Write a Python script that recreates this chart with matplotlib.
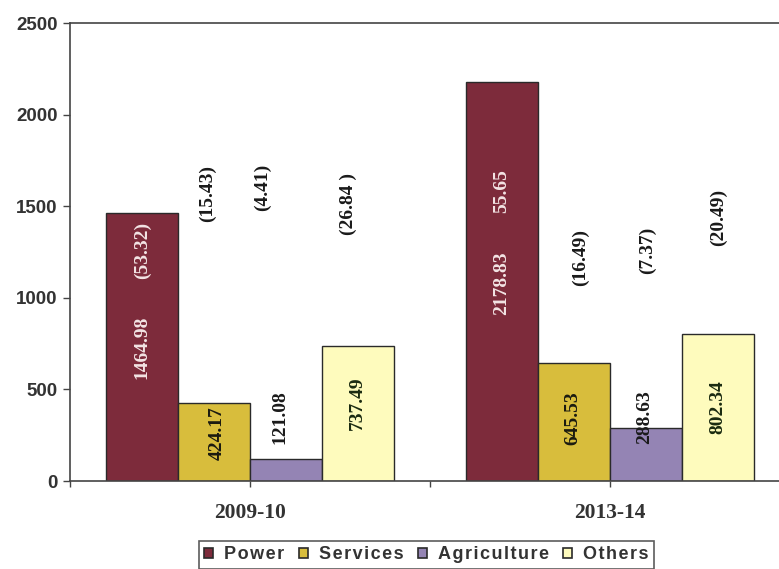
import matplotlib.pyplot as plt
import matplotlib.patches as mpatches
import numpy as np

# data
years = ["2009-10", "2013-14"]
sectors = ["Power", "Services", "Agriculture", "Others"]
values = {
    "Power": [1464.98, 2178.83],
    "Services": [424.17, 645.53],
    "Agriculture": [121.08, 288.63],
    "Others": [737.49, 802.34],
}
shares = {
    "Power": ["(53.32)", "55.65"],
    "Services": ["(15.43)", "(16.49)"],
    "Agriculture": ["(4.41)", "(7.37)"],
    "Others": ["(26.84 )", "(20.49)"],
}
colors = {
    "Power": "#7d2b3b",
    "Services": "#d8bd3c",
    "Agriculture": "#9484b4",
    "Others": "#fefbbd",
}
# where the rotated labels sit (y in data units, x shift in bar widths)
value_label_y = {
    "Power": [730, 1078],
    "Services": [261, 343],
    "Agriculture": [349, 349],
    "Others": [425, 403],
}
share_label_y = {
    "Power": [1258, 1585],
    "Services": [1569, 1220],
    "Agriculture": [1601, 1258],
    "Others": [1514, 1438],
}
share_label_dx = {
    "Power": [0.0, 0.0],
    "Services": [-0.017, 0.017],
    "Agriculture": [-0.064, 0.003],
    "Others": [-0.028, 0.0],
}
value_label_dx = {
    "Power": [0.0, 0.0],
    "Services": [0.008, -0.003],
    "Agriculture": [-0.017, -0.003],
    "Others": [-0.003, 0.0],
}
label_colors = {
    "Power": "#f3e4e4",
    "Services": "#1a1a10",
    "Agriculture": "#1a1a1a",
    "Others": "#1a2a10",
}

fig = plt.figure(figsize=(7.79, 5.69), dpi=100)
ax = fig.add_axes([70 / 779, 1 - 481 / 569, 720 / 779, (481 - 23) / 569])

x = np.arange(len(years))
width = 0.2
offsets = [-0.3, -0.1, 0.1, 0.3]

for s, off in zip(sectors, offsets):
    ax.bar(x + off, values[s], width, color=colors[s], edgecolor="#2a2a2a",
           linewidth=1.0, label=s, zorder=2)
    for i in range(len(years)):
        ax.text(x[i] + off + value_label_dx[s][i], value_label_y[s][i],
                f"{values[s][i]:.2f}", rotation=90, ha="center", va="center",
                fontsize=14, fontweight="bold", family="Liberation Serif",
                color=label_colors[s], zorder=3)
        pc = label_colors[s] if s == "Power" else "#1a1a1a"
        ax.text(x[i] + off + share_label_dx[s][i], share_label_y[s][i],
                shares[s][i], rotation=90, ha="center", va="center",
                fontsize=14, fontweight="bold", family="Liberation Serif",
                color=pc, zorder=3)

ax.set_xlim(-0.5, 1.5)
ax.set_ylim(0, 2500)
ax.set_yticks([0, 500, 1000, 1500, 2000, 2500])
ax.set_xticks(x)
ax.set_xticklabels(years, fontsize=15.5, fontweight="bold",
                   family="Liberation Serif", color="#333333")
ax.set_xticks([-0.5, 0.5, 1.5], minor=True)
ax.tick_params(axis="x", which="both", length=4, width=1, color="#444444", pad=12)
ax.tick_params(axis="y", length=5, width=1, color="#444444", pad=4)
for lab in ax.get_yticklabels():
    lab.set_fontsize(13.5)
    lab.set_fontweight("bold")
    lab.set_family("Liberation Sans")
    lab.set_color("#333333")

for side in ["left", "bottom", "top", "right"]:
    ax.spines[side].set_color("#444444")
    ax.spines[side].set_linewidth(1.2)

# legend with spaced lettering
spaced = ["\u200a".join(s) for s in sectors]
handles = [mpatches.Patch(facecolor=colors[s], edgecolor="#2a2a2a", linewidth=1.2)
           for s in sectors]
leg = fig.legend(handles, spaced, loc="upper left",
                 bbox_to_anchor=(199 / 779, 1 - 541 / 569), ncol=4,
                 frameon=True, fancybox=False, edgecolor="#333333",
                 prop={"family": "Liberation Sans", "weight": "bold", "size": 13},
                 handlelength=0.5, handleheight=0.5, handletextpad=0.6,
                 columnspacing=0.8, borderpad=0.3, borderaxespad=0)
leg.get_frame().set_linewidth(1.2)
for t in leg.get_texts():
    t.set_color("#333333")

fig.savefig("out.png", dpi=100)
